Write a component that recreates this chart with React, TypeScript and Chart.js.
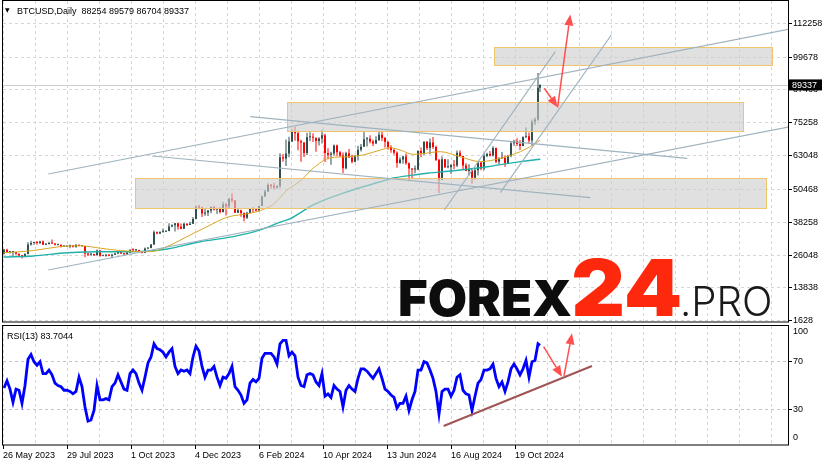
import React, { useEffect, useRef } from 'react';
import { Chart, registerables } from 'chart.js';
Chart.register(...registerables);

// ---------- data (prices in thousand USD, 3-day candles from 26 May 2023, day 0 = 26 May 2023) ----------
const FIRST_OPEN = 26.5;
const LAST_DAY = 537;
const closes = [
  28.0, 27.2, 27.2, 27.2, 26.5, 25.9, 25.6, 26.4, 30.0, 30.5,
  30.7, 30.5, 31.1, 29.9, 30.2, 30.4, 30.3, 29.9, 29.9, 29.2,
  29.2, 29.3, 29.7, 29.1, 29.8, 29.4, 29.4, 26.6, 26.2, 26.4,
  26.0, 27.7, 25.8, 25.8, 26.2, 25.8, 26.2, 26.6, 27.2, 26.6,
  26.3, 27.0, 28.0, 27.8, 27.9, 27.4, 26.9, 28.5, 28.7, 30.0,
  34.5, 34.1, 34.6, 34.7, 35.0, 36.7, 37.1, 37.9, 36.6, 35.8,
  37.7, 37.2, 37.7, 39.5, 43.8, 43.7, 41.5, 41.9, 42.6, 43.9,
  43.0, 43.4, 42.1, 44.9, 44.2, 47.0, 46.3, 41.8, 42.7, 41.7,
  39.9, 41.8, 43.3, 43.1, 42.6, 44.3, 47.8, 49.7, 52.1, 51.8,
  51.3, 51.7, 62.4, 62.0, 63.8, 68.3, 72.1, 71.4, 68.4, 67.9,
  64.0, 69.9, 70.0, 69.7, 68.5, 69.4, 70.6, 64.0, 63.4, 63.8,
  66.8, 64.3, 63.1, 58.3, 63.9, 62.3, 60.8, 62.9, 65.2, 66.3,
  69.1, 69.3, 68.3, 67.5, 68.8, 70.8, 69.6, 68.2, 66.2, 65.1,
  64.1, 60.3, 61.6, 62.7, 60.2, 58.2, 57.9, 57.9, 64.8, 64.0,
  68.2, 65.9, 67.9, 66.2, 61.4, 54.0, 61.7, 58.7, 58.7, 59.5,
  59.4, 64.1, 62.9, 59.4, 57.3, 58.0, 54.8, 57.6, 60.5, 58.2,
  62.9, 63.6, 63.1, 65.9, 60.8, 62.1, 62.2, 60.3, 62.9, 67.6,
  68.4, 67.4, 66.6, 69.9, 70.2, 68.7, 75.6, 76.5, 88.254, 89.337,
];
const highs = [
  28.3, 28.4, 27.4, 27.4, 27.2, 26.6, 26.1, 26.7, 30.8, 31.4,
  31.0, 31.3, 31.4, 31.5, 30.4, 31.0, 31.8, 30.4, 30.2, 30.0,
  29.7, 29.5, 30.0, 29.4, 30.2, 30.1, 29.6, 29.4, 26.8, 26.8,
  26.5, 28.1, 27.9, 26.1, 26.4, 26.4, 26.5, 26.9, 27.4, 27.2,
  26.8, 27.3, 28.1, 28.6, 28.3, 28.0, 27.5, 28.9, 28.9, 30.2,
  35.2, 34.8, 34.9, 35.9, 35.3, 37.9, 37.5, 38.0, 37.9, 37.8,
  38.0, 37.9, 38.4, 40.2, 44.5, 44.7, 44.0, 43.4, 42.8, 44.2,
  44.4, 43.6, 43.8, 45.9, 45.5, 47.2, 49.0, 46.5, 43.4, 42.9,
  41.9, 42.2, 43.4, 43.8, 43.4, 44.4, 48.2, 50.4, 52.8, 52.5,
  52.9, 52.0, 63.9, 63.6, 69.0, 70.1, 72.8, 73.8, 72.3, 68.9,
  68.1, 71.5, 71.7, 71.4, 69.7, 69.9, 72.7, 71.2, 65.8, 64.5,
  67.2, 67.2, 64.8, 64.2, 64.5, 65.5, 63.4, 63.4, 66.7, 67.4,
  71.9, 70.0, 70.6, 68.9, 70.2, 71.9, 71.9, 70.0, 68.4, 66.9,
  65.7, 64.6, 62.4, 63.0, 63.8, 60.5, 58.3, 59.4, 65.0, 66.1,
  68.4, 68.5, 69.4, 70.0, 66.8, 61.9, 62.7, 61.8, 61.7, 59.8,
  61.4, 64.9, 65.0, 63.0, 60.2, 59.8, 58.2, 58.1, 60.6, 60.7,
  63.8, 64.1, 64.8, 66.5, 66.1, 62.4, 64.4, 63.2, 63.4, 68.4,
  68.9, 69.5, 68.8, 70.2, 73.6, 71.6, 76.5, 77.2, 93.8, 89.579,
];
const lows = [
  26.3, 26.8, 26.6, 25.4, 26.2, 25.6, 24.8, 25.2, 26.3, 29.6,
  29.9, 29.9, 30.2, 29.8, 29.7, 30.0, 30.2, 29.6, 29.6, 28.9,
  29.0, 29.1, 28.6, 28.9, 28.8, 29.3, 29.1, 25.2, 25.8, 25.8,
  25.8, 25.9, 25.4, 25.6, 25.4, 25.6, 24.9, 26.1, 26.4, 26.4,
  26.0, 26.1, 26.7, 27.2, 27.4, 27.3, 26.6, 26.8, 28.2, 28.6,
  29.9, 33.8, 34.0, 34.3, 34.6, 34.9, 36.4, 34.8, 35.5, 35.6,
  35.8, 36.9, 37.2, 37.6, 39.5, 43.1, 40.2, 40.7, 40.6, 41.6,
  42.6, 41.4, 41.5, 41.9, 40.8, 43.5, 45.6, 41.7, 41.7, 40.3,
  38.6, 39.5, 41.6, 41.9, 42.2, 42.3, 44.3, 47.7, 49.6, 50.7,
  50.5, 50.6, 51.0, 60.8, 59.2, 62.4, 68.1, 68.6, 65.0, 60.8,
  62.5, 63.3, 68.4, 68.1, 64.5, 66.8, 67.5, 60.7, 61.7, 59.6,
  63.1, 62.8, 62.6, 56.6, 58.0, 62.2, 60.2, 60.6, 61.2, 64.6,
  66.3, 66.4, 67.6, 66.6, 67.4, 68.5, 68.5, 66.1, 65.2, 64.1,
  63.4, 58.5, 60.0, 60.0, 59.6, 53.5, 54.3, 56.5, 57.6, 62.5,
  63.3, 65.1, 63.5, 65.5, 61.0, 49.1, 54.0, 58.4, 58.3, 56.2,
  58.0, 58.8, 62.8, 57.9, 57.2, 55.6, 52.6, 54.1, 55.6, 57.6,
  57.6, 62.4, 62.7, 62.7, 60.2, 59.8, 61.9, 58.9, 60.0, 62.4,
  66.7, 66.6, 65.1, 66.5, 69.7, 67.5, 66.8, 74.4, 76.0, 86.704,
];
const rsiValues = [
  48, 54, 47, 36, 47, 46, 35, 50, 72, 76,
  70, 67, 70, 60, 60, 63, 59, 52, 50, 49,
  46, 46, 45, 43, 45, 57, 49, 32, 20, 21,
  29, 50, 38, 38, 39, 38, 49, 52, 59, 53,
  47, 46, 60, 63, 60, 52, 46, 57, 69, 74,
  85, 81, 80, 78, 74, 78, 81, 66, 60, 63,
  62, 63, 60, 74, 83, 79, 66, 57, 63, 63,
  66, 57, 50, 57, 56, 60, 66, 49, 46, 42,
  35, 38, 52, 55, 53, 56, 73, 77, 77, 77,
  74, 68, 85, 88, 88, 75, 78, 75, 57, 50,
  49, 59, 60, 59, 53, 50, 60, 41, 43, 40,
  50, 47, 45, 32, 46, 50, 47, 45, 56, 64,
  64, 62, 59, 56, 60, 64, 56, 47, 45, 42,
  40, 31, 35, 35, 41, 29, 38, 45, 63, 63,
  70, 69, 63, 56, 45, 26, 45, 47, 47, 41,
  46, 57, 59, 46, 43, 42, 29, 41, 52, 55,
  63, 63, 64, 68, 56, 49, 53, 45, 53, 64,
  68, 64, 59, 64, 71, 57, 70, 71, 85, 83.7,
];
// moving averages read at sparse days
const maFastDays = [0.6, 30.3, 57.3, 77.3, 97.3, 117.3, 147.3, 164, 184, 204, 224, 247.3, 257.3, 270.6, 284, 297.3, 310.3, 327.3, 344, 360.3, 377.3, 387.3, 397.3, 410.3, 420.3, 437.3, 457.3, 477.3, 497.3, 517.3, 527.3, 537.3];
const maFastVals = [26.9, 27.7, 29.2, 29.5, 28.6, 27.7, 27.3, 29.2, 32.9, 36.6, 40.1, 41.6, 42.6, 45.0, 50.2, 53.6, 58.4, 62.2, 62.6, 63.3, 65.1, 66.0, 65.1, 63.5, 63.8, 64.5, 62.6, 60.8, 62.0, 64.5, 66.4, 68.8];
const maSlowDays = [0.3, 30.3, 64.3, 97.3, 130.3, 147.3, 164.3, 197.3, 230.3, 257.3, 277.3, 287.3, 310.3, 344.3, 377.3, 390.3, 410.3, 424.3, 450.3, 484.3, 517.3, 537.3];
const maSlowVals = [25.3, 25.7, 26.9, 27.3, 27.3, 27.6, 28.3, 31.0, 32.9, 35.4, 38.3, 39.6, 44.7, 49.6, 53.3, 54.7, 55.8, 56.5, 57.4, 58.9, 60.8, 61.7];

const priceTicks = [1628, 13838, 26048, 38258, 50468, 63048, 75258, 87468, 99678, 112258];
const rsiTicks = [0, 30, 70, 100];
const gridDays = [0, 32, 64, 96, 128, 160, 192, 224, 256, 288, 320, 352, 384, 416, 448, 480, 512, 544, 576, 608, 640, 672, 704, 736, 768];
const dateLabels = ['26 May 2023', '29 Jul 2023', '1 Oct 2023', '4 Dec 2023', '6 Feb 2024', '10 Apr 2024', '13 Jun 2024', '16 Aug 2024', '19 Oct 2024'];
const LAST_PRICE = 89337;
const TITLE = 'BTCUSD,Daily  88254 89579 86704 89337';
const RSI_TITLE = 'RSI(13) 83.7044';

// chart objects (day, price)
const zoneDays = [[490.6, 769.3], [284.3, 740], [132.3, 763.3]];
const zonePrices = [[96634, 103553], [72082, 83093], [43549, 54709]];
const trendLines = [
  [45.3, 56198, 785.3, 109989],
  [45.3, 20486, 785.3, 73682],
  [247.3, 77513, 684.3, 62038],
  [149.3, 62894, 587.3, 47381],
  [441.3, 42806, 552.3, 101693],
  [497.3, 49241, 608.3, 107906],
];
const priceArrows = [[541.3, 88078, 554.6, 81010], [554.6, 81010, 567.3, 115532]];
const rsiTrend = [440.6, 16, 589, 66.4];
const rsiArrows = [[540.6, 82.6, 559, 57.4], [561, 58, 569, 93.9]];

// ---------- helpers ----------
const FONT = 'Liberation Sans, Arial, sans-serif';
const GRID = '#d6d6d6';
const BULL = '#2f4f4f';
const BEAR = '#ff0000';
const ARROW = '#ff5050';

function fixScale(width?: number, height?: number) {
  return (s: any) => {
    if (width !== undefined) s.width = width;
    if (height !== undefined) s.height = height;
    s.paddingTop = 0; s.paddingBottom = 0; s.paddingLeft = 0; s.paddingRight = 0;
  };
}

function drawArrow(ctx: CanvasRenderingContext2D, x1: number, y1: number, x2: number, y2: number, color: string) {
  const head = 11, half = 4.5;
  const a = Math.atan2(y2 - y1, x2 - x1);
  const bx = x2 - head * Math.cos(a), by = y2 - head * Math.sin(a);
  ctx.strokeStyle = color; ctx.lineWidth = 1.5; ctx.fillStyle = color;
  ctx.beginPath(); ctx.moveTo(x1, y1); ctx.lineTo(bx, by); ctx.stroke();
  ctx.beginPath(); ctx.moveTo(x2, y2);
  ctx.lineTo(bx + half * Math.sin(a), by - half * Math.cos(a));
  ctx.lineTo(bx - half * Math.sin(a), by + half * Math.cos(a));
  ctx.closePath(); ctx.fill();
}

function drawFit(ctx: CanvasRenderingContext2D, text: string, font: string, color: string, left: number, right: number, top: number, base: number) {
  ctx.save();
  ctx.font = font; ctx.fillStyle = color; ctx.textAlign = 'left'; ctx.textBaseline = 'alphabetic';
  const m = ctx.measureText(text);
  const w = m.actualBoundingBoxLeft + m.actualBoundingBoxRight;
  const h = m.actualBoundingBoxAscent;
  ctx.translate(left, base);
  ctx.scale((right - left) / w, (base - top) / h);
  ctx.fillText(text, m.actualBoundingBoxLeft, 0);
  ctx.restore();
}

function xScaleOpts(showLabels: boolean) {
  return {
    type: 'linear', min: 0, max: 785, offset: false,
    afterBuildTicks: (s: any) => { s.ticks = gridDays.map((v) => ({ value: v })); },
    afterFit: fixScale(undefined, showLabels ? 21 : 0),
    ticks: {
      display: showLabels, autoSkip: false, maxRotation: 0, minRotation: 0, align: 'start', padding: 1,
      color: '#000', font: { family: FONT, size: 9 },
      callback: (_v: any, i: number) => (i % 2 === 0 && dateLabels[i / 2]) ? dateLabels[i / 2] : '',
    },
    grid: {
      color: GRID, offset: false, drawTicks: showLabels, tickLength: 4,
      tickColor: (c: any) => (c.index % 2 === 0 && c.index / 2 < dateLabels.length) ? '#000' : 'rgba(0,0,0,0)',
    },
    border: { display: false, dash: [3, 3] },
  };
}

export default function App() {
  const mainRef = useRef<HTMLCanvasElement>(null);
  const rsiRef = useRef<HTMLCanvasElement>(null);

  useEffect(() => {
    document.body.style.margin = '0';
    document.body.style.background = '#fff';
    const K = 1000;
    const opens = closes.map((_c, i) => (i === 0 ? FIRST_OPEN : closes[i - 1]));
    const days = closes.map((_c, i) => Math.min(i * 3 + 1, LAST_DAY));
    const colors = closes.map((c, i) => (c >= opens[i] ? BULL : BEAR));
    const bodyData = days.map((d, i) => ({ x: d, y: [Math.min(opens[i], closes[i]) * K, Math.max(opens[i], closes[i]) * K] }));
    const wickData = days.map((d, i) => ({ x: d, y: [lows[i] * K, highs[i] * K] }));
    const fastData = maFastDays.map((d, i) => ({ x: d, y: maFastVals[i] * K }));
    const slowData = maSlowDays.map((d, i) => ({ x: d, y: maSlowVals[i] * K }));
    const rsiData = days.map((d, i) => ({ x: d, y: rsiValues[i] }));

    const mainPlugin = {
      id: 'mainDecor',
      beforeDatasetsDraw(chart: any) {
        const { ctx, chartArea: a, scales: { y } } = chart;
        const py = Math.round(y.getPixelForValue(LAST_PRICE)) + 0.5;
        ctx.save(); ctx.strokeStyle = '#cfcfcf'; ctx.lineWidth = 1;
        ctx.beginPath(); ctx.moveTo(a.left, py); ctx.lineTo(a.right, py); ctx.stroke(); ctx.restore();
      },
      afterDatasetsDraw(chart: any) {
        const { ctx, chartArea: a, scales: { x, y } } = chart;
        ctx.save();
        ctx.beginPath(); ctx.rect(a.left, a.top, a.right - a.left, a.bottom - a.top); ctx.clip();
        zoneDays.forEach(([d1, d2], i) => {
          const [p1, p2] = zonePrices[i];
          const x1 = Math.round(x.getPixelForValue(d1)) + 0.5, x2 = Math.round(x.getPixelForValue(d2)) + 0.5;
          const y1 = Math.round(y.getPixelForValue(p2)) + 0.5, y2 = Math.round(y.getPixelForValue(p1)) + 0.5;
          ctx.fillStyle = 'rgba(205,205,205,0.62)'; ctx.fillRect(x1, y1, x2 - x1, y2 - y1);
          ctx.strokeStyle = '#f0c46c'; ctx.lineWidth = 1; ctx.strokeRect(x1, y1, x2 - x1, y2 - y1);
        });
        ctx.strokeStyle = '#9fb3bf'; ctx.lineWidth = 1.2;
        trendLines.forEach(([d1, p1, d2, p2]) => {
          ctx.beginPath(); ctx.moveTo(x.getPixelForValue(d1), y.getPixelForValue(p1));
          ctx.lineTo(x.getPixelForValue(d2), y.getPixelForValue(p2)); ctx.stroke();
        });
        priceArrows.forEach(([d1, p1, d2, p2]) => drawArrow(ctx, x.getPixelForValue(d1), y.getPixelForValue(p1), x.getPixelForValue(d2), y.getPixelForValue(p2), ARROW));
        ctx.restore();
      },
      afterDraw(chart: any) {
        const { ctx, chartArea: a, scales: { y } } = chart;
        ctx.save();
        ctx.strokeStyle = '#000'; ctx.lineWidth = 1;
        ctx.strokeRect(a.left - 0.5, a.top - 0.5, a.right - a.left + 1, a.bottom - a.top + 0.5);
        // title
        ctx.fillStyle = '#000'; ctx.textBaseline = 'alphabetic'; ctx.textAlign = 'left';
        ctx.font = '6px "DejaVu Sans"'; ctx.fillText('▼', 5, 11.5);
        ctx.font = `9px ${FONT}`; ctx.fillText(TITLE, 17, 14);
        // last price box
        const py = y.getPixelForValue(LAST_PRICE);
        ctx.fillStyle = '#000'; ctx.fillRect(a.right + 1, py - 5.5, 33, 11);
        ctx.fillStyle = '#fff'; ctx.textBaseline = 'middle'; ctx.fillText(String(LAST_PRICE), a.right + 4, py + 0.5);
        ctx.restore();
        // watermark
        drawFit(ctx, 'FOREX', '900 50px Inter', '#0d0d0d', 400, 571.7, 279.3, 316);
        drawFit(ctx, '24', '900 80px Inter', 'rgb(254,40,12)', 573.3, 680, 258.3, 316);
        drawFit(ctx, '.PRO', '300 40px Inter', '#1a1a1a', 683, 770, 286.7, 316);
      },
    };

    const rsiPlugin = {
      id: 'rsiDecor',
      afterDatasetsDraw(chart: any) {
        const { ctx, chartArea: a, scales: { x, y } } = chart;
        ctx.save();
        ctx.beginPath(); ctx.rect(a.left, a.top, a.right - a.left, a.bottom - a.top); ctx.clip();
        const [d1, v1, d2, v2] = rsiTrend;
        ctx.strokeStyle = '#a05555'; ctx.lineWidth = 2;
        ctx.beginPath(); ctx.moveTo(x.getPixelForValue(d1), y.getPixelForValue(v1)); ctx.lineTo(x.getPixelForValue(d2), y.getPixelForValue(v2)); ctx.stroke();
        rsiArrows.forEach(([e1, w1, e2, w2]) => drawArrow(ctx, x.getPixelForValue(e1), y.getPixelForValue(w1), x.getPixelForValue(e2), y.getPixelForValue(w2), ARROW));
        ctx.restore();
      },
      afterDraw(chart: any) {
        const { ctx, chartArea: a, scales: { y } } = chart;
        ctx.save();
        ctx.strokeStyle = '#000'; ctx.lineWidth = 1;
        ctx.strokeRect(a.left - 0.5, a.top - 0.5, a.right - a.left + 1, a.bottom - a.top + 0.5);
        ctx.fillStyle = '#000'; ctx.font = `9px ${FONT}`; ctx.textAlign = 'left'; ctx.textBaseline = 'alphabetic';
        ctx.fillText(RSI_TITLE, 7, a.top + 12.5);
        ctx.textBaseline = 'middle';
        ctx.fillText('100', a.right + 5, y.getPixelForValue(100) + 6);
        ctx.fillText('0', a.right + 5, y.getPixelForValue(0) - 7);
        ctx.restore();
      },
    };

    const main = new Chart(mainRef.current as HTMLCanvasElement, {
      type: 'bar',
      data: {
        datasets: [
          { type: 'line', data: fastData, borderColor: '#daa520', borderWidth: 1, pointRadius: 0, cubicInterpolationMode: 'monotone', order: 0 } as any,
          { type: 'line', data: slowData, borderColor: '#20b2aa', borderWidth: 1.4, pointRadius: 0, cubicInterpolationMode: 'monotone', order: 0 } as any,
          { type: 'bar', data: bodyData, backgroundColor: colors, barThickness: 2, grouped: false, inflateAmount: 0, borderWidth: 0, minBarLength: 1, order: 1 } as any,
          { type: 'bar', data: wickData, backgroundColor: colors, barThickness: 1, grouped: false, inflateAmount: 0, borderWidth: 0, order: 2 } as any,
        ],
      },
      options: {
        responsive: false, maintainAspectRatio: false, animation: false, devicePixelRatio: 1, events: [],
        layout: { padding: { left: 3, top: 1, right: 0, bottom: 144 } },
        plugins: { legend: { display: false }, tooltip: { enabled: false } },
        scales: {
          x: xScaleOpts(false) as any,
          y: {
            type: 'linear', position: 'right', min: 1142, max: 120554,
            afterBuildTicks: (s: any) => { s.ticks = priceTicks.map((v) => ({ value: v })); },
            afterFit: fixScale(41),
            ticks: { color: '#000', font: { family: FONT, size: 9 }, padding: 1, callback: (v: any) => String(v) },
            grid: { color: GRID, drawTicks: true, tickLength: 4, tickColor: '#000' },
            border: { display: false, dash: [3, 3] },
          } as any,
        },
      },
      plugins: [mainPlugin],
    } as any);

    const rsi = new Chart(rsiRef.current as HTMLCanvasElement, {
      type: 'line',
      data: {
        datasets: [
          { data: rsiData, borderColor: '#0000ff', borderWidth: 2.8, pointRadius: 0, tension: 0 } as any,
        ],
      },
      options: {
        responsive: false, maintainAspectRatio: false, animation: false, devicePixelRatio: 1, events: [],
        layout: { padding: { left: 3, top: 326, right: 0, bottom: 0 } },
        plugins: { legend: { display: false }, tooltip: { enabled: false } },
        scales: {
          x: xScaleOpts(true) as any,
          y: {
            type: 'linear', position: 'right', min: 0, max: 100,
            afterBuildTicks: (s: any) => { s.ticks = rsiTicks.map((v) => ({ value: v })); },
            afterFit: fixScale(41),
            ticks: { color: '#000', font: { family: FONT, size: 9 }, padding: 1, callback: (v: any) => (v === 30 || v === 70 ? String(v) : '') },
            grid: {
              color: (c: any) => (c.tick && (c.tick.value === 30 || c.tick.value === 70) ? '#c4c4c4' : 'rgba(0,0,0,0)'),
              drawTicks: true, tickLength: 4,
              tickColor: (c: any) => (c.tick && (c.tick.value === 30 || c.tick.value === 70) ? '#000' : 'rgba(0,0,0,0)'),
            },
            border: { display: false, dash: [3, 3] },
          } as any,
        },
      },
      plugins: [rsiPlugin],
    } as any);

    return () => { main.destroy(); rsi.destroy(); };
  }, []);

  return (
    <div style={{ position: 'relative', width: 829, height: 466, background: '#fff', overflow: 'hidden' }}>
      <canvas ref={mainRef} width={829} height={466} style={{ position: 'absolute', left: 0, top: 0 }} />
      <canvas ref={rsiRef} width={829} height={466} style={{ position: 'absolute', left: 0, top: 0 }} />
    </div>
  );
}
